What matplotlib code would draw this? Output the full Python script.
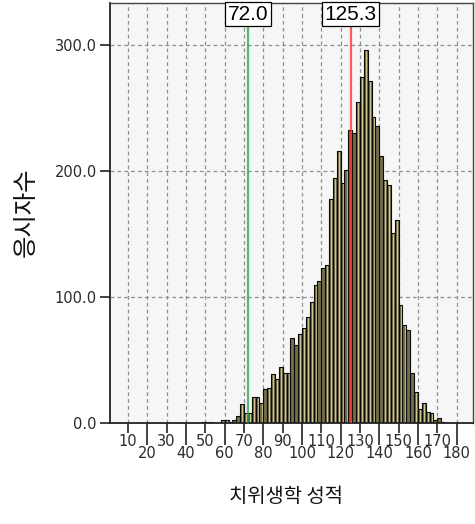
import numpy as np
import matplotlib
matplotlib.use("Agg")
import matplotlib.pyplot as plt
import matplotlib.transforms as mtransforms

# ---- data ----
bin_left = list(range(48, 174, 2))
bin_width = 2
counts = [1, 1, 1, 0, 0, 3, 3, 1, 3, 6,
          15, 8, 8, 21, 21, 16, 27, 28, 39, 35,
          45, 40, 40, 68, 62, 71, 76, 84, 96, 110,
          113, 123, 126, 178, 195, 216, 191, 201, 233, 230,
          255, 275, 296, 272, 243, 236, 212, 193, 189, 151,
          161, 94, 78, 74, 40, 25, 11, 16, 9, 8,
          3, 4, 1]
ref_values = [72.0, 125.3]
ref_colors = ['#2ea653', '#ff3333']
odd_ticks = [10, 30, 50, 70, 90, 110, 130, 150, 170]
even_ticks = [20, 40, 60, 80, 100, 120, 140, 160, 180]
y_ticks = [0, 100, 200, 300]
xlabel = '치위생학 성적'
ylabel = '응시자수'

W, H = 475, 524
fig = plt.figure(figsize=(W / 100, H / 100), dpi=100)
ax = fig.add_axes([110 / W, (H - 423.3) / H, 363 / W, 420.6 / H])
ax.set_facecolor('#f6f6f6')
ax.set_xlim(0.67, 188.5)
ax.set_ylim(0, 333.8)

x = np.array(bin_left, dtype=float)
c = np.array(counts, dtype=float)
ax.bar(x, c, width=bin_width, align='edge', color='#746f4a', linewidth=0, zorder=2)
ax.bar(x + 1.2, c, width=0.38, align='edge', color='#cdc68e', linewidth=0, zorder=2.1)
ax.bar(x, c, width=bin_width, align='edge', fill=False, edgecolor='#0a0a0a',
       linewidth=0.8, zorder=2.2)

blend = mtransforms.blended_transform_factory(ax.transData, ax.transAxes)
for v, col in zip(ref_values, ref_colors):
    ax.axvline(v, color=col, lw=1.6, alpha=0.8, zorder=3)
    ax.text(v, 0.995, f'{v:.1f}', transform=blend, ha='center', va='top',
            fontsize=15, family=['Liberation Sans Narrow', 'Liberation Sans'],
            color='black', zorder=5,
            bbox=dict(boxstyle='square,pad=0.12', fc='white', ec='black', lw=0.9))

# grid
ax.set_axisbelow(True)
ax.set_xticks(odd_ticks)
ax.set_xticks(even_ticks, minor=True)
ax.set_xticklabels([str(t) for t in odd_ticks], fontsize=10.5, color='#2a2a2a')
ax.set_xticklabels([str(t) for t in even_ticks], minor=True, fontsize=10.5, color='#2a2a2a')
ax.set_yticks(y_ticks)
ax.set_yticklabels([f'{t:.1f}' for t in y_ticks], fontsize=10.5, color='#2a2a2a')
ax.grid(True, which='both', axis='x', color='#8e8e8e', lw=0.9, linestyle=(0, (3, 2.5)))
ax.grid(True, which='major', axis='y', color='#8e8e8e', lw=0.9, linestyle=(0, (3, 2.5)))

ax.tick_params(axis='x', which='major', length=7.5, width=1.2, pad=0.5, color='#222222')
ax.tick_params(axis='x', which='minor', length=16, width=1.2, pad=0.3, color='#222222')
ax.tick_params(axis='y', which='major', length=7.5, width=1.2, pad=2, color='#222222')

for s in ax.spines.values():
    s.set_color('#444444')
    s.set_linewidth(1.0)
ax.spines['left'].set_color('#222222')
ax.spines['bottom'].set_color('#222222')
ax.spines['left'].set_linewidth(1.3)
ax.spines['bottom'].set_linewidth(1.3)

fig.text(286 / W, 1 - 497 / H, xlabel, ha='center', va='center', fontsize=14.3,
         family=['Noto Sans CJK KR', 'DejaVu Sans'], color='#111111')
fig.text(26 / W, 1 - 212 / H, ylabel, ha='center', va='center', fontsize=17.5,
         rotation=90, family=['Noto Sans CJK KR', 'DejaVu Sans'], color='#111111')

fig.savefig('out.png', dpi=100)
